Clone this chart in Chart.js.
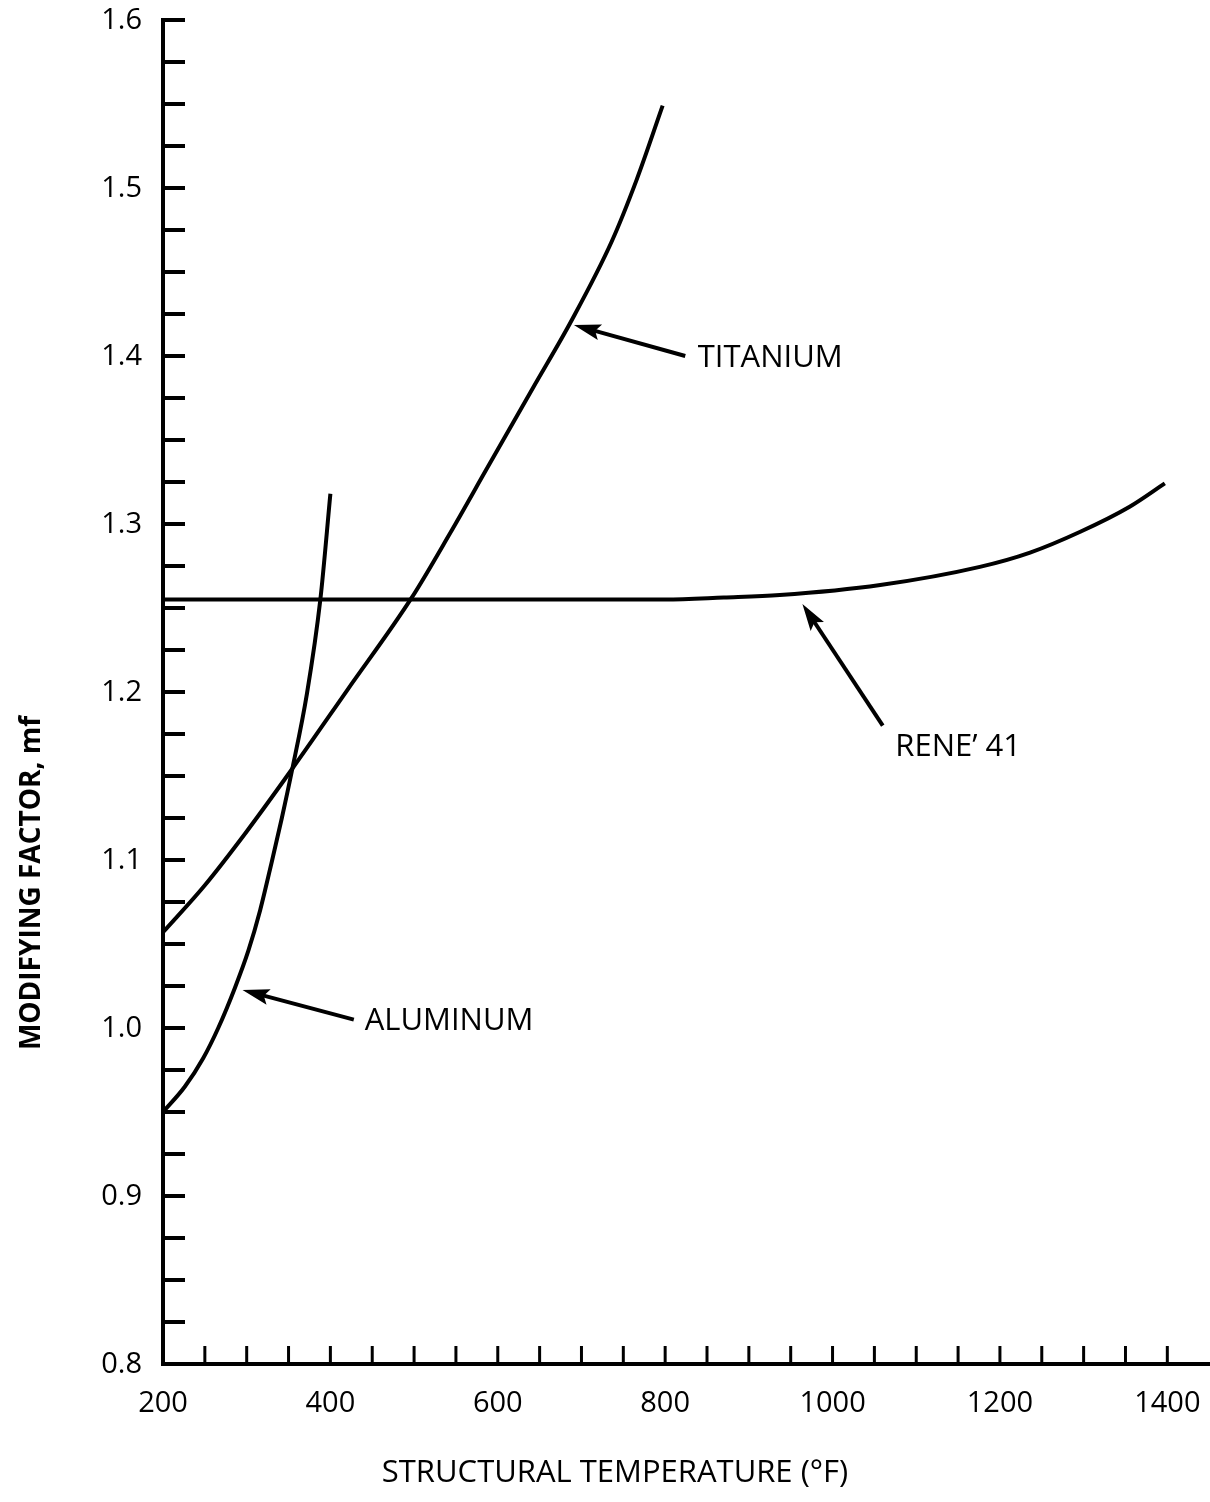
<!DOCTYPE html>
<html lang="en">
<head>
  <meta charset="UTF-8" />
  <title>Modifying Factor vs Structural Temperature</title>
  <script src="https://cdn.jsdelivr.net/npm/chart.js"></script>
  <style>
    html, body { margin: 0; padding: 0; background: #fff; }
    #wrap { width: 1210px; height: 1502px; position: relative; }
  </style>
</head>
<body>
<div id="wrap"><canvas id="mfChart"></canvas></div>

<script>
  // values
  const aluminumTemp = [200, 226, 248, 266, 286, 302, 316, 330, 342, 354, 372, 388, 400];
  const aluminumMf   = [0.950, 0.965, 0.982, 1.000, 1.024, 1.046, 1.070, 1.099, 1.125, 1.153, 1.199, 1.255, 1.318];

  const titaniumTemp = [200, 250, 300, 354, 420, 497, 543, 587, 642, 688, 736, 766, 797];
  const titaniumMf   = [1.057, 1.085, 1.117, 1.154, 1.201, 1.256, 1.2945, 1.333, 1.381, 1.421, 1.468, 1.505, 1.549];

  const reneTemp = [200, 500, 800, 870, 937, 1057, 1176, 1236, 1296, 1355, 1397];
  const reneMf   = [1.255, 1.255, 1.255, 1.2562, 1.2577, 1.2637, 1.2745, 1.2830, 1.2954, 1.3103, 1.3242];

  const xTickValues = [200, 400, 600, 800, 1000, 1200, 1400];
  const yTickValues = [0.8, 0.9, 1.0, 1.1, 1.2, 1.3, 1.4, 1.5, 1.6];
  const xMinorStep = 50;
  const yMinorStep = 0.025;

  // callout labels and arrows (data units)
  const calloutText  = ['TITANIUM', 'RENE\u2019 41', 'ALUMINUM'];
  const calloutX     = [839, 1075, 441];
  const calloutY     = [1.399, 1.167, 1.004];
  const arrowTipX    = [691, 964, 295];
  const arrowTipY    = [1.4185, 1.2524, 1.0226];
  const arrowTailX   = [824, 1060, 428];
  const arrowTailY   = [1.400, 1.180, 1.005];

  const xTitle = 'STRUCTURAL TEMPERATURE (\u00B0F)';
  const yTitle = 'MODIFYING FACTOR, mf';

  const FONT = "'Open Sans', sans-serif";

  function toPoints(xs, ys) {
    return xs.map((x, i) => ({ x: x, y: ys[i] }));
  }

  const lineStyle = {
    borderColor: '#000',
    borderWidth: 4,
    borderJoinStyle: 'round',
    pointRadius: 0,
    fill: false,
    cubicInterpolationMode: 'monotone'
  };

  // inward minor ticks, tick labels, titles and callouts
  const decorPlugin = {
    id: 'decor',
    afterDraw(chart) {
      const ctx = chart.ctx;
      const xs = chart.scales.x, ys = chart.scales.y;
      const area = chart.chartArea;
      ctx.save();
      ctx.strokeStyle = '#000';
      ctx.fillStyle = '#000';
      ctx.lineCap = 'butt';

      // y ticks pointing right
      ctx.lineWidth = 4;
      for (let v = ys.min + yMinorStep; v <= ys.max + 1e-9; v += yMinorStep) {
        const py = ys.getPixelForValue(v);
        ctx.beginPath();
        ctx.moveTo(area.left, py);
        ctx.lineTo(area.left + 22, py);
        ctx.stroke();
      }
      // x ticks pointing up
      ctx.lineWidth = 3;
      for (let v = xs.min + xMinorStep; v <= 1400 + 1e-9; v += xMinorStep) {
        const px = xs.getPixelForValue(v);
        ctx.beginPath();
        ctx.moveTo(px, area.bottom);
        ctx.lineTo(px, area.bottom - 18);
        ctx.stroke();
      }

      // tick labels
      ctx.font = '29px ' + FONT;
      ctx.textBaseline = 'middle';
      ctx.textAlign = 'right';
      yTickValues.forEach(v => {
        ctx.fillText(v.toFixed(1), area.left - 21, ys.getPixelForValue(v) + 1);
      });
      ctx.textAlign = 'center';
      xTickValues.forEach(v => {
        ctx.fillText(String(v), xs.getPixelForValue(v), area.bottom + 40);
      });

      // callouts
      ctx.font = '31px ' + FONT;
      ctx.textAlign = 'left';
      for (let i = 0; i < calloutText.length; i++) {
        ctx.fillText(calloutText[i], xs.getPixelForValue(calloutX[i]), ys.getPixelForValue(calloutY[i]));
        const tx = xs.getPixelForValue(arrowTipX[i]), ty = ys.getPixelForValue(arrowTipY[i]);
        const sx = xs.getPixelForValue(arrowTailX[i]), sy = ys.getPixelForValue(arrowTailY[i]);
        const ang = Math.atan2(ty - sy, tx - sx);
        const headLen = 27, headHalf = 8;
        const bx = tx - headLen * Math.cos(ang), by = ty - headLen * Math.sin(ang);
        ctx.lineWidth = 4;
        ctx.beginPath();
        ctx.moveTo(sx, sy);
        ctx.lineTo(bx + 6 * Math.cos(ang), by + 6 * Math.sin(ang));
        ctx.stroke();
        ctx.beginPath();
        ctx.moveTo(tx, ty);
        ctx.lineTo(bx - headHalf * Math.sin(ang), by + headHalf * Math.cos(ang));
        ctx.lineTo(bx + 5 * Math.cos(ang), by + 5 * Math.sin(ang));
        ctx.lineTo(bx + headHalf * Math.sin(ang), by - headHalf * Math.cos(ang));
        ctx.closePath();
        ctx.fill();
      }

      // axis titles
      ctx.textAlign = 'center';
      ctx.font = '31px ' + FONT;
      ctx.fillText(xTitle, 615, 1473);
      ctx.translate(32, 883);
      ctx.rotate(-Math.PI / 2);
      ctx.font = 'bold 28px ' + FONT;
      ctx.fillText(yTitle, 0, 0);
      ctx.restore();
    }
  };

  new Chart(document.getElementById('mfChart'), {
    type: 'line',
    data: {
      datasets: [
        Object.assign({ label: 'Aluminum', data: toPoints(aluminumTemp, aluminumMf) }, lineStyle),
        Object.assign({ label: 'Titanium', data: toPoints(titaniumTemp, titaniumMf) }, lineStyle),
        Object.assign({ label: 'Rene 41', data: toPoints(reneTemp, reneMf) }, lineStyle)
      ]
    },
    options: {
      responsive: true,
      maintainAspectRatio: false,
      animation: false,
      devicePixelRatio: 1,
      layout: { padding: { top: 20, right: 0, left: 0, bottom: 0 } },
      plugins: { legend: { display: false }, tooltip: { enabled: false } },
      scales: {
        x: {
          type: 'linear',
          min: 200,
          max: 1451,
          afterFit: s => { s.height = 138; },
          grid: { display: false, drawTicks: false },
          border: { display: true, color: '#000', width: 4 },
          ticks: { display: false }
        },
        y: {
          type: 'linear',
          min: 0.8,
          max: 1.6,
          afterFit: s => { s.width = 163; },
          grid: { display: false, drawTicks: false },
          border: { display: true, color: '#000', width: 4 },
          ticks: { display: false }
        }
      }
    },
    plugins: [decorPlugin]
  });
</script>
</body>
</html>
